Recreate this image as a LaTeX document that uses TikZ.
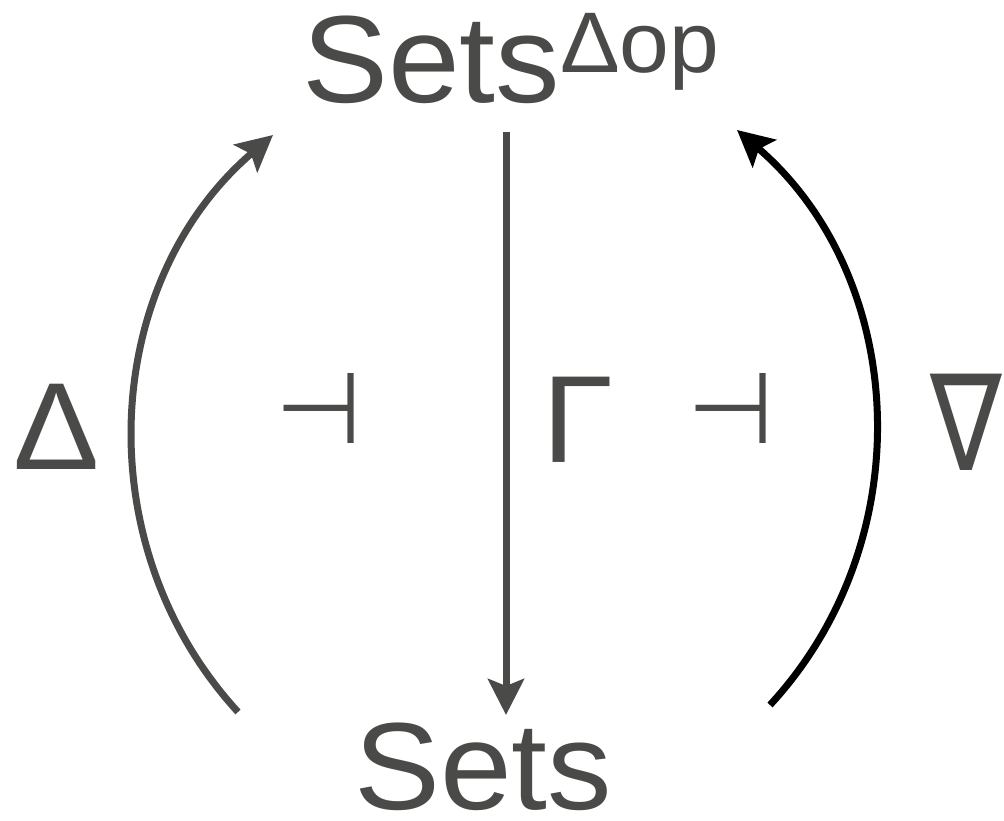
\documentclass[tikz,border=0pt]{standalone}
\usepackage{fontspec}
\setmainfont{Liberation Sans}[FakeStretch=1.04]
\newfontfamily\djv{DejaVu Sans}
\usetikzlibrary{arrows.meta}
\definecolor{gfg}{RGB}{74,74,72}
\tikzset{
  lbl/.style={text=gfg, font=\fontsize{124}{130}\selectfont, inner sep=0pt, outer sep=0pt, text depth=0pt},
  sym/.style={text=gfg, font=\djv\fontsize{100}{110}\selectfont, inner sep=0pt, outer sep=0pt, text depth=0pt},
  arr/.style={line width=7pt, -{Stealth[length=36pt, width=36pt, inset=7pt]}},
}
\begin{document}
\begin{tikzpicture}[x=1pt,y=1pt]
\useasboundingbox (0,0) rectangle (1004,821);
\node[lbl, anchor=base west] (top) at (302,718) {Sets\raisebox{30pt}{\fontsize{86}{90}\selectfont Δop}};
\node[lbl, anchor=base west] (bot) at (354,11) {Sets};
\node[lbl, anchor=base] (delta) at (57,351) {Δ};
\node[lbl, anchor=base] (gamma) at (578.5,358) {Γ};
\node[sym, anchor=base, font=\djv\fontsize{134}{140}\selectfont] (nabla) at (966.5,350) {\scalebox{0.8}[1]{∇}};
\node[sym, anchor=base] (adjL) at (319,377) {⊣};
\node[sym, anchor=base] (adjR) at (731,377) {⊣};
\coordinate (L1) at (238,109);
\coordinate (L2) at (273,686);
\coordinate (R1) at (770,116);
\coordinate (R2) at (737,691);
\coordinate (V1) at (506,689);
\coordinate (V2) at (506,106);
\draw[arr, gfg] (L1) to[bend left=46] (L2);
\draw[arr, black] (R1) to[bend right=46] (R2);
\draw[arr, gfg] (V1) -- (V2);
\end{tikzpicture}
\end{document}
